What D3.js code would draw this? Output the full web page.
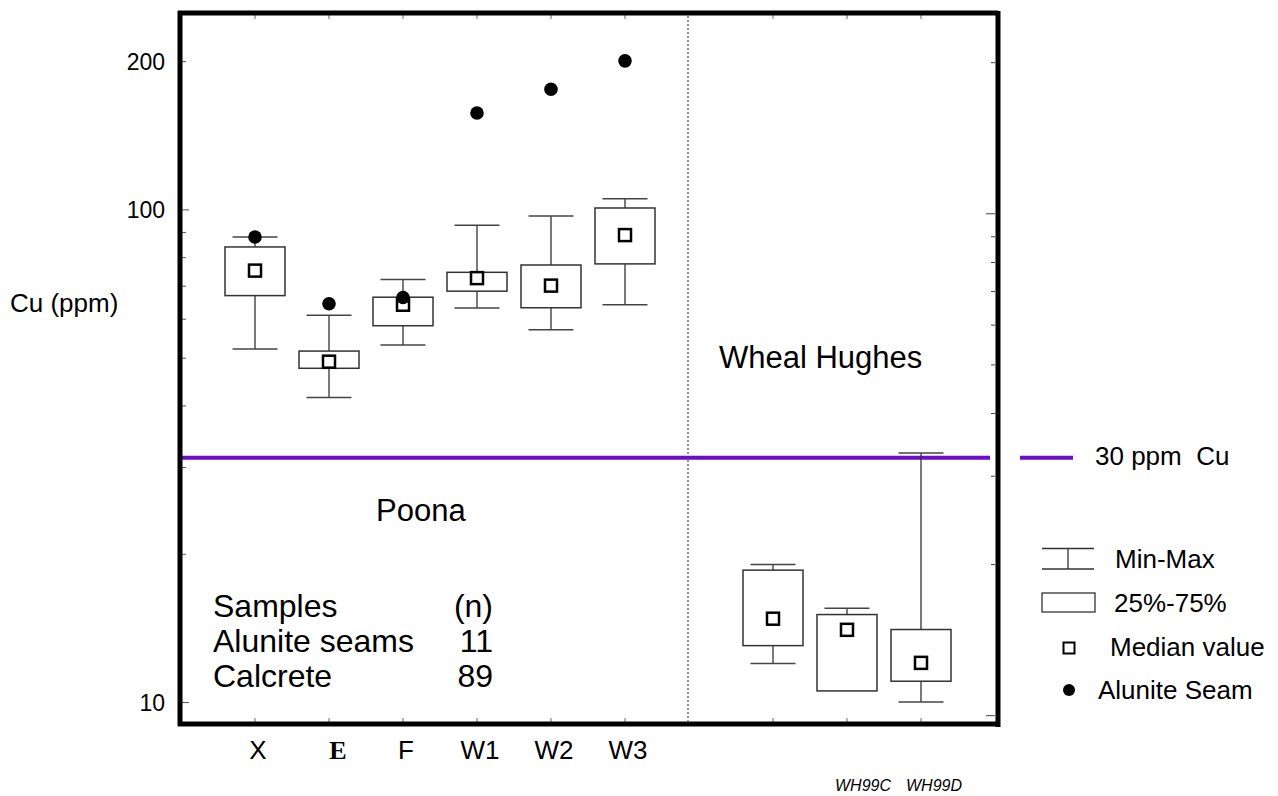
<!DOCTYPE html>
<html>
<head>
<meta charset="utf-8">
<script src="https://cdn.jsdelivr.net/npm/d3@7"></script>
<style>
  html, body { margin: 0; padding: 0; background: #fff; }
  svg { display: block; font-family: "Liberation Sans", Arial, sans-serif; }
</style>
</head>
<body>
<svg id="chart" width="1278" height="796"></svg>
<script>
// ---- data ----
const slots = ["X", "E", "F", "W1", "W2", "W3", "gap", "WH99B", "WH99C", "WH99D"];
const boxCategories = ["X", "E", "F", "W1", "W2", "W3", "WH99B", "WH99C", "WH99D"];
const axisLabels = ["X", "E", "F", "W1", "W2", "W3"];
const minValues    = [52.2, 41.6, 53.2, 63.2, 57.1, 64.2, 12.0, 10.56, 10.03];
const q1Values     = [67.0, 47.7, 58.2, 68.4, 63.3, 77.7, 13.05, 10.56, 11.05];
const medianValues = [75.3, 49.2, 64.2, 72.7, 70.2, 88.9, 14.8, 14.05, 12.04];
const q3Values     = [84.1, 51.7, 66.5, 74.7, 77.3, 100.9, 18.57, 15.09, 14.07];
const maxValues    = [88.1, 61.1, 72.2, 93.1, 97.2, 105.3, 19.06, 15.54, 32.1];
const seamCategories = ["X", "E", "F", "W1", "W2", "W3"];
const seamValues     = [88.1, 64.5, 66.4, 157.3, 175.8, 200.7];
const yTicks = [10, 20, 30, 40, 50, 60, 70, 80, 90, 100, 200];
const yTickLabels = [10, 100, 200];
const thresholdValue = 31.4;
const wheelLabels = ["WH99C", "WH99D"];
const sampleRows = [["Samples", "(n)"], ["Alunite seams", "11"], ["Calcrete", "89"]];

// ---- layout ----
const svg = d3.select("#chart");
const L = 180, R = 998, T = 13, B = 724;
const x = d3.scalePoint().domain(slots).range([181, 995]).padding(1);
const y = d3.scaleLog().domain([9.09, 251]).range([723, 13]);
const yRight = d3.scaleLog().domain([10, 200]).range([715.7, 62.7]);

// dotted separator
const sepX = (x("W3") + x("WH99B")) / 2 - 11;
svg.append("line").attr("x1", sepX).attr("x2", sepX).attr("y1", T + 3).attr("y2", B - 3)
  .attr("stroke", "#2f6e2f").attr("stroke-width", 1.3).attr("stroke-dasharray", "2,2");

// left ticks (inward)
svg.append("g").selectAll("line").data(yTicks).join("line")
  .attr("x1", L + 2).attr("x2", d => L + 2 + ((d === 10 || d === 100) ? 7 : 4))
  .attr("y1", d => y(d)).attr("y2", d => y(d))
  .attr("stroke", "#555").attr("stroke-width", 1);
// right ticks (inward)
svg.append("g").selectAll("line").data(yTicks).join("line")
  .attr("x1", R - 3).attr("x2", d => R - 3 - ((d === 10 || d === 100) ? 9 : 4))
  .attr("y1", d => yRight(d)).attr("y2", d => yRight(d))
  .attr("stroke", "#444").attr("stroke-width", 1);
// top/bottom category ticks
const tickCats = boxCategories;
svg.append("g").selectAll("line").data(tickCats).join("line")
  .attr("x1", d => x(d)).attr("x2", d => x(d)).attr("y1", T + 2).attr("y2", T + 6)
  .attr("stroke", "#666").attr("stroke-width", 1);
svg.append("g").selectAll("line").data(tickCats).join("line")
  .attr("x1", d => x(d)).attr("x2", d => x(d)).attr("y1", B - 2).attr("y2", B - 6)
  .attr("stroke", "#666").attr("stroke-width", 1);

// y tick labels
svg.append("g").selectAll("text").data(yTickLabels).join("text")
  .attr("x", 165).attr("y", d => y(d)).attr("dy", "0.35em")
  .attr("text-anchor", "end").attr("font-size", 23).text(d => d);

svg.append("text").attr("x", 10).attr("y", 303).attr("dy", "0.35em")
  .attr("font-size", 26).text("Cu (ppm)");

// x labels
svg.append("g").selectAll("text").data(axisLabels).join("text")
  .attr("x", d => x(d) + (d === "E" ? 9 : 3)).attr("y", 759)
  .attr("text-anchor", "middle")
  .attr("font-size", 26)
  .attr("font-family", d => d === "E" ? "Liberation Serif, Times New Roman, serif" : null)
  .attr("font-weight", d => d === "E" ? "bold" : null)
  .text(d => d);

// WH labels
svg.append("g").selectAll("text").data(wheelLabels).join("text")
  .attr("x", (d, i) => x(d) + (i === 0 ? 16 : 13)).attr("y", 791)
  .attr("text-anchor", "middle").attr("font-size", 16).attr("font-style", "italic")
  .text(d => d);

// threshold line
svg.append("line").attr("x1", L).attr("x2", 990)
  .attr("y1", y(thresholdValue)).attr("y2", y(thresholdValue))
  .attr("stroke", "#6a0dcc").attr("stroke-width", 4);

// boxes
const boxes = boxCategories.map((c, i) => ({
  c, min: minValues[i], q1: q1Values[i], med: medianValues[i], q3: q3Values[i], max: maxValues[i]
}));
const bw = 60, cw = 45, ms = 12;
const g = svg.append("g");
const bg = g.selectAll("g").data(boxes).join("g");
bg.append("line").attr("x1", d => x(d.c)).attr("x2", d => x(d.c))
  .attr("y1", d => y(d.max)).attr("y2", d => y(d.q3)).attr("stroke", "#333").attr("stroke-width", 1.3);
bg.append("line").attr("x1", d => x(d.c)).attr("x2", d => x(d.c))
  .attr("y1", d => y(d.q1)).attr("y2", d => y(d.min)).attr("stroke", "#333").attr("stroke-width", 1.3);
bg.append("line").attr("x1", d => x(d.c) - cw / 2).attr("x2", d => x(d.c) + cw / 2)
  .attr("y1", d => y(d.max)).attr("y2", d => y(d.max)).attr("stroke", "#444").attr("stroke-width", 1.5);
bg.filter(d => d.min < d.q1).append("line").attr("x1", d => x(d.c) - cw / 2).attr("x2", d => x(d.c) + cw / 2)
  .attr("y1", d => y(d.min)).attr("y2", d => y(d.min)).attr("stroke", "#444").attr("stroke-width", 1.5);
bg.append("rect").attr("x", d => x(d.c) - bw / 2).attr("width", bw)
  .attr("y", d => y(d.q3)).attr("height", d => y(d.q1) - y(d.q3))
  .attr("fill", "#fff").attr("stroke", "#333").attr("stroke-width", 1.5);
bg.append("rect").attr("x", d => x(d.c) - ms / 2).attr("width", ms)
  .attr("y", d => y(d.med) - ms / 2).attr("height", ms)
  .attr("fill", "#fff").attr("stroke", "#000").attr("stroke-width", 2.5);

// seams
svg.append("g").selectAll("circle").data(seamCategories).join("circle")
  .attr("cx", d => x(d)).attr("cy", (d, i) => y(seamValues[i])).attr("r", 6.8).attr("fill", "#000");

// frame
const fr = svg.append("g").attr("stroke", "#000").attr("stroke-width", 5).attr("fill", "none");
fr.append("line").attr("x1", L).attr("x2", L).attr("y1", T - 2).attr("y2", B + 2);
fr.append("line").attr("x1", L - 2).attr("x2", R).attr("y1", T).attr("y2", T);
fr.append("line").attr("x1", R).attr("x2", R).attr("y1", T - 2).attr("y2", B + 3);
fr.append("line").attr("x1", L - 2).attr("x2", R - 2).attr("y1", B).attr("y2", B);

// annotations
svg.append("text").attr("x", 719).attr("y", 368).attr("font-size", 31).text("Wheal Hughes");
svg.append("text").attr("x", 376).attr("y", 521).attr("font-size", 31).text("Poona");
const sr = svg.append("g").selectAll("g").data(sampleRows).join("g");
sr.append("text").attr("x", 213).attr("y", (d, i) => 617 + i * 35).attr("font-size", 32).text(d => d[0]);
sr.append("text").attr("x", 493).attr("y", (d, i) => 617 + i * 35).attr("font-size", 32)
  .attr("text-anchor", "end").text(d => d[1]);

// legend
const lg = svg.append("g");
lg.append("line").attr("x1", 1020).attr("x2", 1073).attr("y1", y(thresholdValue)).attr("y2", y(thresholdValue))
  .attr("stroke", "#6a0dcc").attr("stroke-width", 4);
lg.append("text").attr("x", 1095).attr("y", 465).attr("font-size", 26).attr("xml:space", "preserve").text("30 ppm  Cu");
lg.append("line").attr("x1", 1042).attr("x2", 1094).attr("y1", 548.5).attr("y2", 548.5).attr("stroke", "#333").attr("stroke-width", 1.3);
lg.append("line").attr("x1", 1042).attr("x2", 1094).attr("y1", 569).attr("y2", 569).attr("stroke", "#333").attr("stroke-width", 1.3);
lg.append("line").attr("x1", 1068).attr("x2", 1068).attr("y1", 548.5).attr("y2", 569).attr("stroke", "#333").attr("stroke-width", 1.3);
lg.append("text").attr("x", 1115).attr("y", 568).attr("font-size", 26).text("Min-Max");
lg.append("rect").attr("x", 1042).attr("y", 593).attr("width", 53).attr("height", 19)
  .attr("fill", "#fff").attr("stroke", "#333").attr("stroke-width", 1.3);
lg.append("text").attr("x", 1114).attr("y", 612).attr("font-size", 26).text("25%-75%");
lg.append("rect").attr("x", 1063.5).attr("y", 642.5).attr("width", 11).attr("height", 11)
  .attr("fill", "#fff").attr("stroke", "#000").attr("stroke-width", 2);
lg.append("text").attr("x", 1110).attr("y", 656).attr("font-size", 26).text("Median value");
lg.append("circle").attr("cx", 1069).attr("cy", 690).attr("r", 6).attr("fill", "#000");
lg.append("text").attr("x", 1098).attr("y", 699).attr("font-size", 26).text("Alunite Seam");
</script>
</body>
</html>
